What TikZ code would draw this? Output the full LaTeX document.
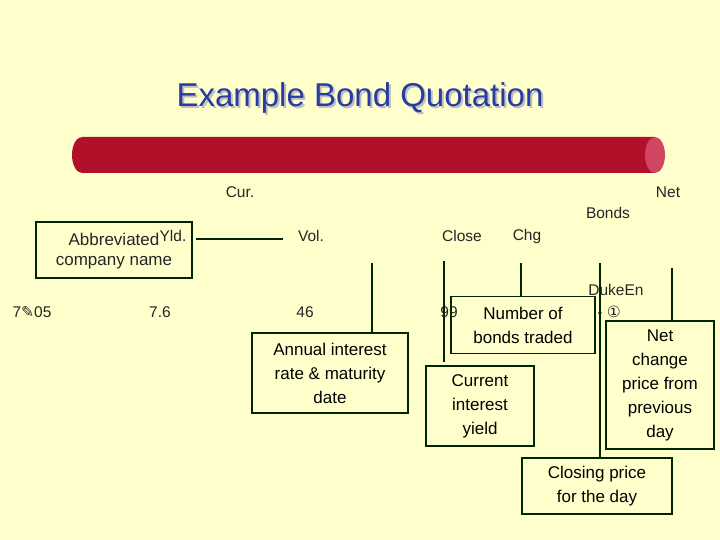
\documentclass[tikz,border=0pt]{standalone}
\usepackage{fontspec}
\setmainfont{Liberation Sans}
\newfontfamily\djv{DejaVu Sans}
\definecolor{barred}{RGB}{176,16,42}
\definecolor{barend}{RGB}{210,70,100}
\definecolor{titleblue}{RGB}{40,60,160}
\definecolor{bg}{RGB}{255,255,204}
\begin{document}
\begin{tikzpicture}[x=1pt,y=-1pt,
  lbl/.style={font=\fontsize{15.5}{18}\selectfont,text=black!85,inner sep=0pt},
  bx/.style={draw=green!15!black,line width=1.3pt,font=\fontsize{17}{24}\selectfont,align=center,inner sep=0pt},
  ln/.style={draw=green!15!black,line width=1.3pt}]
\fill[bg] (0,0) rectangle (720,540);
\useasboundingbox (0,0) rectangle (720,540);
\node[font=\fontsize{33}{38}\selectfont,text=gray!50] at (362,100) {Example Bond Quotation};
\node[font=\fontsize{33}{38}\selectfont,text=titleblue] (title) at (360,98) {Example Bond Quotation};
\fill[barred] (82,137) arc[start angle=270,end angle=90,x radius=10,y radius=18] -- (655,173) -- (655,137) -- cycle;
\fill[barend] (655,155) ellipse[x radius=10,y radius=18];
\node[lbl] (cur) at (240,192) {Cur.};
\node[lbl] (net) at (668,192) {Net};
\node[lbl] (bonds) at (608,213) {Bonds};
\node[lbl] (vol) at (311,236) {Vol.};
\node[lbl] (close) at (462,236) {Close};
\node[lbl] (chg) at (527,236) {Chg};
\node[bx,minimum width=156,minimum height=56] (abbr) at (114,250) {};
\node[lbl,font=\fontsize{17}{20}\selectfont] (abbrt) at (114,239) {Abbreviated};
\node[lbl,font=\fontsize{17}{20}\selectfont] (company) at (114,263) {company name};
\node[lbl] (yld) at (173,236) {Yld.};
\coordinate (l1) at (196,239); \coordinate (l2) at (283,239);
\draw[ln] (l1) -- (l2);
\node[lbl] (date) at (32,312) {7{\djv ✎}05};
\node[lbl] (y76) at (160,312) {7.6};
\node[lbl] (v46) at (305,312) {46};
\node[lbl] (c99) at (449,312) {99};
\node[lbl] (duke) at (616,290) {DukeEn};
\node[lbl] (chgv) at (609,312) {- {\djv ①}};
\node[bx,minimum width=156,minimum height=80] (annual) at (330,373) {Annual interest\\rate \& maturity\\date};
\node[bx,minimum width=144,minimum height=57] (number) at (523,325) {Number of\\bonds traded};
\node[bx,minimum width=108,minimum height=80] (current) at (480,406) {Current\\interest\\yield};
\node[bx,minimum width=108,minimum height=128] (netch) at (660,385) {Net\\change\\price from\\previous\\day};
\node[bx,minimum width=150,minimum height=56] (closing) at (597,486) {Closing price\\for the day};
\coordinate (a1) at (372,263); \coordinate (a2) at (444,261);
\coordinate (a3) at (521,263); \coordinate (a4) at (600,263);
\coordinate (a5) at (672,268);
\draw[ln] (a1) -- (a1|-annual.north);
\draw[ln] (a2) -- (444,362);
\draw[ln] (a3) -- (a3|-number.north);
\draw[ln] (a4) -- (a4|-closing.north);
\draw[ln] (a5) -- (a5|-netch.north);
\end{tikzpicture}
\end{document}
